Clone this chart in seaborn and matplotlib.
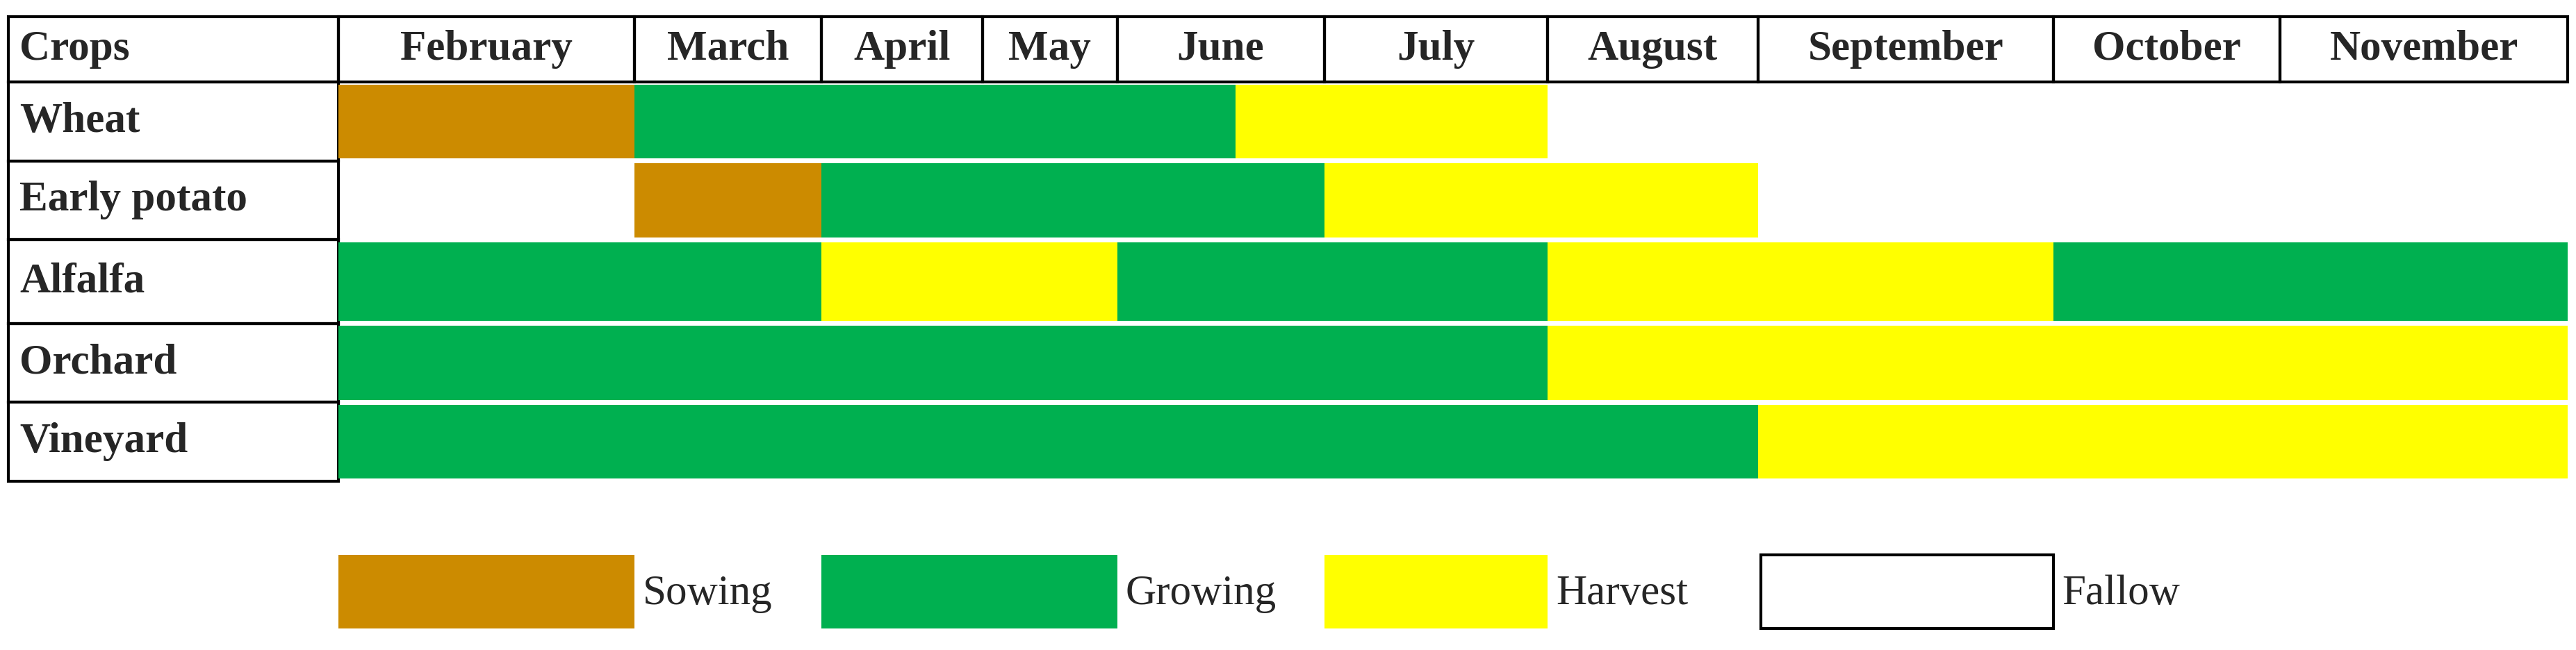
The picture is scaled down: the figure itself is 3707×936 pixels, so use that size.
import matplotlib.pyplot as plt
import seaborn as sns
from matplotlib.patches import Rectangle

months = ["February", "March", "April", "May", "June", "July",
          "August", "September", "October", "November"]
month_edges = [206, 386, 500, 598, 680, 806, 942, 1070, 1250, 1388, 1563]
crops = ["Wheat", "Early potato", "Alfalfa", "Orchard", "Vineyard"]
row_edges = [50, 98, 146, 197, 245, 293]
stages = ["Sowing", "Growing", "Harvest", "Fallow"]
stage_colors = {"Sowing": "#CC8B00", "Growing": "#00B050",
                "Harvest": "#FFFF00", "Fallow": "white"}
# (start, end, stage) per crop, in chart x units
schedule = {
    "Wheat": [(206, 386, "Sowing"), (386, 752, "Growing"), (752, 942, "Harvest")],
    "Early potato": [(386, 500, "Sowing"), (500, 806, "Growing"), (806, 1070, "Harvest")],
    "Alfalfa": [(206, 500, "Growing"), (500, 680, "Harvest"), (680, 942, "Growing"),
                (942, 1250, "Harvest"), (1250, 1563, "Growing")],
    "Orchard": [(206, 942, "Growing"), (942, 1563, "Harvest")],
    "Vineyard": [(206, 1070, "Growing"), (1070, 1563, "Harvest")],
}
legend_boxes = [(206, 386), (500, 680), (806, 942), (1072, 1250)]

sns.set_style("white")
plt.rcParams['font.family'] = ['Liberation Serif', 'DejaVu Serif']
fig = plt.figure(figsize=(37.07, 9.36), dpi=100)
ax = fig.add_axes([0, 0, 1, 1])
ax.set_xlim(0, 1568)
ax.set_ylim(396, 0)
ax.axis("off")
fs = 44

# header row
ax.add_patch(Rectangle((5, 10), 201, 40, fill=False, lw=3, ec="black"))
ax.text(12, 30, "Crops", fontsize=fs, fontweight="bold", va="center")
for i, m in enumerate(months):
    x0, x1 = month_edges[i], month_edges[i + 1]
    ax.add_patch(Rectangle((x0, 10), x1 - x0, 40, fill=False, lw=3, ec="black"))
    ax.text((x0 + x1) / 2, 30, m, fontsize=fs, fontweight="bold", ha="center", va="center")

# crop rows
for j, c in enumerate(crops):
    y0, y1 = row_edges[j], row_edges[j + 1]
    ax.add_patch(Rectangle((5, y0), 201, y1 - y0, fill=False, lw=3, ec="black"))
    ax.text(12, (y0 + y1) / 2, c, fontsize=fs, fontweight="bold", va="center")
    for s, e, st in schedule[c]:
        ax.broken_barh([(s, e - s)], (y0 + 1.5, y1 - y0 - 3), color=stage_colors[st], lw=0)

# legend
for (s, e), st in zip(legend_boxes, stages):
    ax.add_patch(Rectangle((s, 338), e - s, 45, fc=stage_colors[st],
                           ec="black" if st == "Fallow" else "none", lw=3))
    ax.text(e + 5, 362, st, fontsize=fs, va="center")

fig.savefig("out.png", dpi=100)
